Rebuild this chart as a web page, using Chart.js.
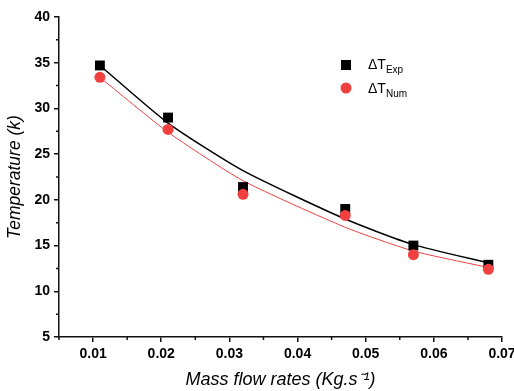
<!DOCTYPE html>
<html>
<head>
<meta charset="utf-8">
<script src="https://cdn.jsdelivr.net/npm/chart.js@4.4.0/dist/chart.umd.min.js"></script>
<style>
  html, body { margin: 0; padding: 0; background: #fff; }
  #wrap { width: 514px; height: 391px; overflow: hidden; position: relative; }
  #box { width: 530px; height: 391px; }
</style>
</head>
<body>
<div id="wrap"><div id="box"><canvas id="chart"></canvas></div></div>
<script>
// Mass flow rate vs temperature difference

// x positions (kg/s)
const flowRates = [0.011, 0.021, 0.032, 0.047, 0.057, 0.068];
// measured points
const expValues = [34.7, 29.0, 21.4, 19.0, 15.0, 12.9];
const numValues = [33.4, 27.7, 20.6, 18.3, 14.0, 12.4];
// fitted curves
const expFit = [34.7, 28.4, 23.2, 17.9, 15.1, 13.1];
const numFit = [33.4, 27.4, 22.1, 17.0, 14.4, 12.6];

const xTicks = [0.01, 0.02, 0.03, 0.04, 0.05, 0.06, 0.07];
const xMinor = [0.005, 0.015, 0.025, 0.035, 0.045, 0.055, 0.065];
const yTicks = [5, 10, 15, 20, 25, 30, 35, 40];
const yMinor = [7.5, 12.5, 17.5, 22.5, 27.5, 32.5, 37.5];

const RED = 'rgb(240,64,64)';

function pts(ys) {
    return flowRates.map((x, i) => ({ x: x, y: ys[i] }));
}

// minor ticks + legend with subscripts
const extras = {
    id: 'extras',
    afterDraw(chart) {
        const ctx = chart.ctx;
        const xs = chart.scales.x, ys = chart.scales.y;
        const area = chart.chartArea;
        ctx.save();
        ctx.strokeStyle = '#111';
        ctx.lineWidth = 1.5;
        ctx.beginPath();
        xMinor.forEach(v => {
            const px = xs.getPixelForValue(v);
            ctx.moveTo(px, area.bottom);
            ctx.lineTo(px, area.bottom + 3);
        });
        yMinor.forEach(v => {
            const py = ys.getPixelForValue(v);
            ctx.moveTo(area.left, py);
            ctx.lineTo(area.left - 3, py);
        });
        ctx.stroke();

        // legend
        ctx.fillStyle = '#000';
        ctx.fillRect(341, 60, 10, 10);
        ctx.fillStyle = RED;
        ctx.beginPath();
        ctx.arc(346, 88, 5.5, 0, Math.PI * 2);
        ctx.fill();

        ctx.fillStyle = '#000';
        ctx.textBaseline = 'alphabetic';
        ctx.font = '14px "Liberation Sans", Arial, sans-serif';
        ctx.fillText('\u0394T', 368, 69);
        let w = ctx.measureText('\u0394T').width;
        ctx.fillText('\u0394T', 368, 93);
        ctx.font = '10px "Liberation Sans", Arial, sans-serif';
        ctx.fillText('Exp', 368 + w, 73);
        ctx.fillText('Num', 368 + w, 97);
        ctx.restore();
    }
};

const ctx = document.getElementById('chart').getContext('2d');
new Chart(ctx, {
    type: 'scatter',
    data: {
        datasets: [{
            label: 'Num',
            data: pts(numValues),
            pointStyle: 'circle',
            pointRadius: 5.5,
            backgroundColor: RED,
            borderColor: RED,
            borderWidth: 0,
            order: 0
        }, {
            label: 'Exp',
            data: pts(expValues),
            pointStyle: 'rect',
            pointRadius: 7,
            backgroundColor: '#000',
            borderColor: '#000',
            borderWidth: 0,
            order: 1
        }, {
            type: 'line',
            label: 'Exp fit',
            data: pts(expFit),
            borderColor: '#000',
            borderWidth: 1.5,
            pointRadius: 0,
            tension: 0.2,
            order: 2
        }, {
            type: 'line',
            label: 'Num fit',
            data: pts(numFit),
            borderColor: RED,
            borderWidth: 1,
            pointRadius: 0,
            tension: 0.2,
            order: 3
        }]
    },
    options: {
        responsive: true,
        maintainAspectRatio: false,
        animation: false,
        layout: { padding: { top: 17, right: 28, left: 0, bottom: 0 } },
        plugins: {
            legend: { display: false },
            tooltip: { enabled: false }
        },
        scales: {
            x: {
                type: 'linear',
                min: 0.005,
                max: 0.07,
                afterBuildTicks: s => { s.ticks = xTicks.map(v => ({ value: v })); },
                afterFit: s => { s.height = 54; },
                border: { display: true, color: '#111', width: 1.5 },
                grid: { display: true, drawOnChartArea: false, drawTicks: true, tickLength: 5, color: '#111', lineWidth: 1.5 },
                ticks: {
                    color: '#000',
                    padding: 4,
                    maxRotation: 0,
                    autoSkip: false,
                    font: { family: '"Liberation Sans", Arial, sans-serif', size: 14, weight: 'bold' },
                    callback: v => v.toFixed(2)
                },
                title: {
                    display: true,
                    text: 'Mass flow rates (Kg.s\u207B\u00B9)',
                    color: '#000',
                    padding: { top: 4, bottom: 0 },
                    font: { family: '"Liberation Sans", Arial, sans-serif', size: 18, style: 'italic' }
                }
            },
            y: {
                min: 5,
                max: 40,
                afterBuildTicks: s => { s.ticks = yTicks.map(v => ({ value: v })); },
                afterFit: s => { s.width = 59; },
                border: { display: true, color: '#111', width: 1.5 },
                grid: { display: true, drawOnChartArea: false, drawTicks: true, tickLength: 5, color: '#111', lineWidth: 1.5 },
                ticks: {
                    color: '#000',
                    padding: 4,
                    font: { family: '"Liberation Sans", Arial, sans-serif', size: 14, weight: 'bold' }
                },
                title: {
                    display: true,
                    text: 'Temperature (k)',
                    color: '#000',
                    padding: { top: 5, bottom: 0 },
                    font: { family: '"Liberation Sans", Arial, sans-serif', size: 17.5, style: 'italic' }
                }
            }
        }
    },
    plugins: [extras]
});
</script>
</body>
</html>
